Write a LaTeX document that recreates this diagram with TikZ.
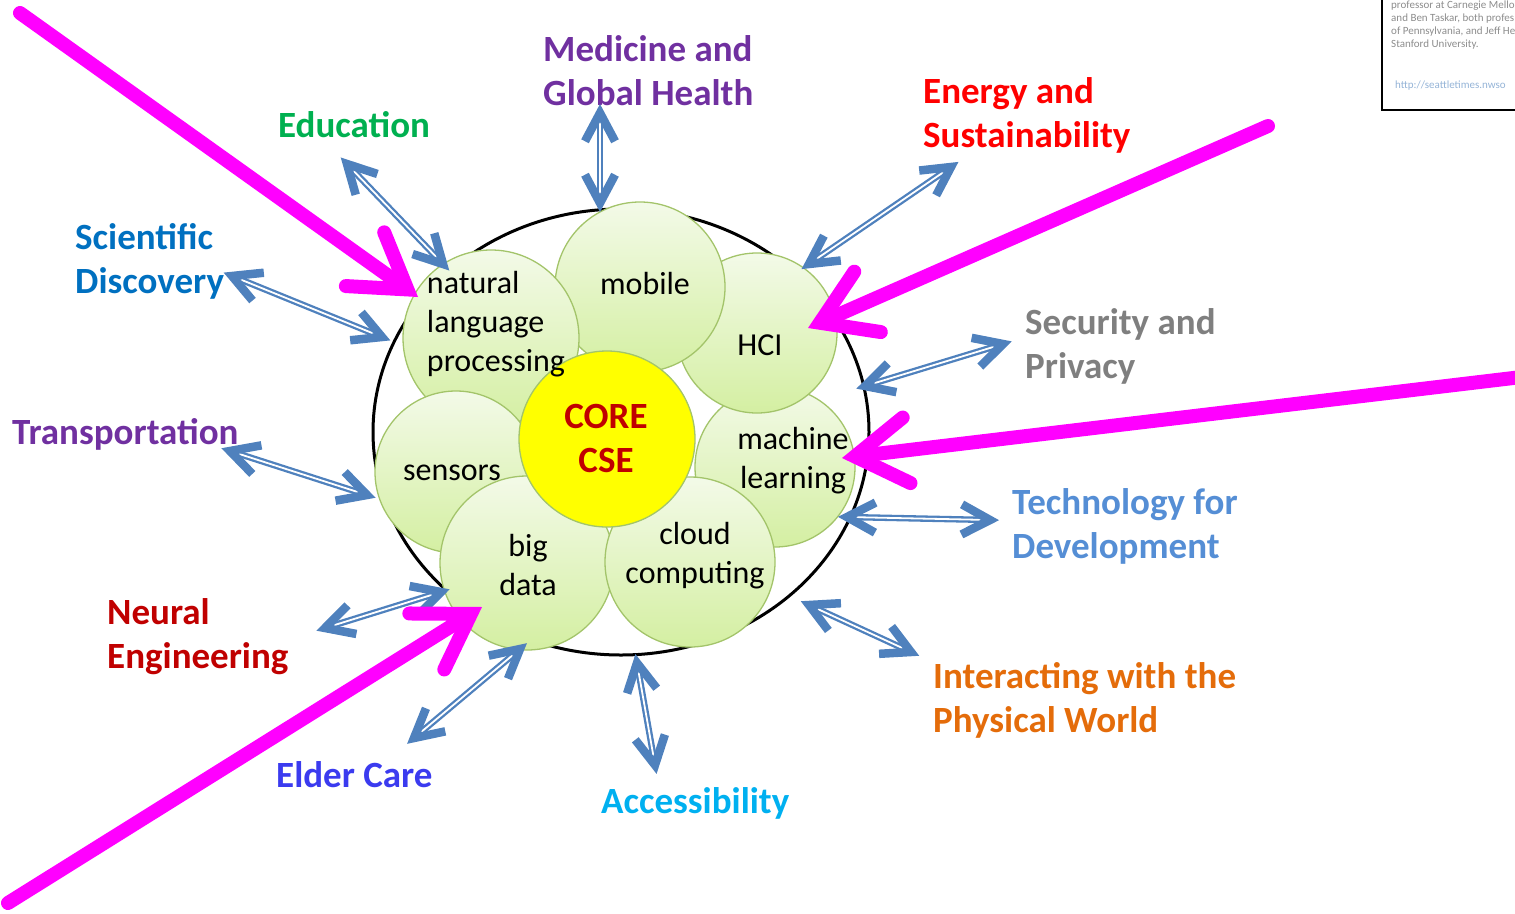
\documentclass[tikz,border=0pt]{standalone}
\usepackage{fontspec}
\setmainfont{Carlito}
\usetikzlibrary{shapes.geometric,arrows.meta,calc}
\definecolor{linkblue}{HTML}{4F81BD}
\definecolor{hotpink}{HTML}{FF00FF}
\definecolor{leafedge}{HTML}{A3C46A}
\definecolor{leaftop}{HTML}{F3FAE8}
\definecolor{leafbot}{HTML}{D4EFA2}
\definecolor{corered}{HTML}{C00000}
\definecolor{purplearea}{HTML}{7030A0}
\definecolor{greenarea}{HTML}{00B050}
\definecolor{bluearea}{HTML}{0070C0}
\definecolor{redarea}{HTML}{FF0000}
\definecolor{grayarea}{HTML}{7F7F7F}
\definecolor{skyarea}{HTML}{00B0F0}
\definecolor{royalarea}{HTML}{3B3BEF}
\definecolor{orangearea}{HTML}{E46C0A}
\definecolor{steelarea}{HTML}{558ED5}
\tikzset{
	topic/.style={circle, draw=leafedge, line width=1.3pt, top color=leaftop, bottom color=leafbot, inner sep=0pt},
	topictext/.style={inner sep=0pt, align=center, font=\fontsize{32}{39}\selectfont},
	area/.style={anchor=west, inner sep=0pt, align=left, font=\bfseries\fontsize{37}{44}\selectfont},
	link/.style={draw=linkblue, line width=2.3pt, double=white, double distance=1.8pt, shorten <=10pt, shorten >=10pt},
	chevron/.style={draw=linkblue, line width=8.5pt, line join=miter, line cap=butt},
	pointer/.style={draw=hotpink, line width=14pt, line cap=round, -{Straight Barb[length=52pt,width=66pt,line cap=round]}}
}
\begin{document}
\begin{tikzpicture}[x=1pt,y=-1pt]
	\useasboundingbox (0,0) rectangle (1515,913);
	\node[draw, line width=2pt, minimum width=200pt, minimum height=131pt, anchor=south west] (note) at (1381,111) {};
	\node[anchor=north west, inner sep=0pt, align=left, text=black!45, font=\fontsize{11}{12.8}\selectfont] (quote) at (1391,1) {professor at Carnegie Mello\\and Ben Taskar, both profes\\of Pennsylvania, and Jeff He\\Stanford University.};
	\node[anchor=west, inner sep=0pt, text=linkblue!60, font=\fontsize{11}{13}\selectfont] (source) at (1395,86) {http://seattletimes.nwso};
	\node[ellipse, draw, line width=3pt, minimum width=496pt, minimum height=446pt] (ring) at (621,432) {};
	\node[topic, minimum size=160pt] (ml) at (775,467) {};
	\node[topic, minimum size=160pt] (hci) at (757,333) {};
	\node[topic, minimum size=170pt] (mobile) at (640,287) {};
	\node[topic, minimum size=176pt] (nlp) at (491,338) {};
	\node[topic, minimum size=162pt] (sensors) at (456,472) {};
	\node[topic, minimum size=174pt] (bigdata) at (527,563) {};
	\node[topic, minimum size=170pt] (cloud) at (690,562) {};
	\node[topic, top color=yellow, bottom color=yellow, minimum size=176pt] (core) at (607,439) {};
	\node[topictext, align=left] (nlp-text) at (496,324) {natural\\language\\processing};
	\node[topictext] (mobile-text) at (645,283) {mobile};
	\node[topictext] (hci-text) at (760,345) {HCI};
	\node[topictext] (ml-text) at (793,461) {machine\\learning};
	\node[topictext] (cloud-text) at (695,556) {cloud\\computing};
	\node[topictext] (bigdata-text) at (528,565) {big\\data};
	\node[topictext] (sensors-text) at (452,473) {sensors};
	\node[topictext, text=corered, font=\bfseries\fontsize{37}{44}\selectfont] (core-text) at (606,438) {CORE\\CSE};
	\node[area, text=purplearea] (medicine) at (543,71) {Medicine and\\Global Health};
	\node[area, text=greenarea] (education) at (278,125) {Education};
	\node[area, text=bluearea] (science) at (75,261) {Scientific\\Discovery};
	\node[area, text=purplearea] (transport) at (12,434) {Transportation};
	\node[area, text=corered] (neural) at (107,637) {Neural\\Engineering};
	\node[area, text=royalarea] (elder) at (276,775) {Elder Care};
	\node[area, text=skyarea] (access) at (601,803) {Accessibility};
	\node[area, text=orangearea] (physical) at (933,700) {Interacting with the\\Physical World};
	\node[area, text=steelarea] (develop) at (1012,526) {Technology for\\Development};
	\node[area, text=grayarea] (security) at (1025,346) {Security and\\Privacy};
	\node[area, text=redarea] (energy) at (923,115) {Energy and\\Sustainability};
	\foreach \n/\xa/\ya/\xb/\yb in {medicine/600/113/600/203, education/347/164/443/264, science/232/276/382/337, transport/230/451/367/495, neural/325/628/441/592, elder/414/738/520/649, access/637/663/655/765, physical/809/605/911/652, develop/847/517/990/520, security/865/386/1003/344, energy/809/264/951/167}
	{
		\coordinate (\n-a) at (\xa,\ya);
		\coordinate (\n-b) at (\xb,\yb);
		\draw[link] (\n-a) -- (\n-b);
		\draw[chevron] ($(\n-a)!32pt!28:(\n-b)$) -- (\n-a) -- ($(\n-a)!32pt!-28:(\n-b)$);
		\draw[chevron] ($(\n-b)!32pt!28:(\n-a)$) -- (\n-b) -- ($(\n-b)!32pt!-28:(\n-a)$);
	}
	\coordinate (nlp-from) at (20,13);
	\coordinate (nlp-tip) at (418,297);
	\coordinate (hci-from) at (1268,126);
	\coordinate (hci-tip) at (808,328);
	\coordinate (ml-from) at (1530,376);
	\coordinate (ml-tip) at (842,458);
	\coordinate (bigdata-from) at (8,903);
	\coordinate (bigdata-tip) at (482,607);
	\draw[pointer] (nlp-from) -- (nlp-tip);
	\draw[pointer] (hci-from) -- (hci-tip);
	\draw[pointer] (ml-from) -- (ml-tip);
	\draw[pointer] (bigdata-from) -- (bigdata-tip);
\end{tikzpicture}
\end{document}
